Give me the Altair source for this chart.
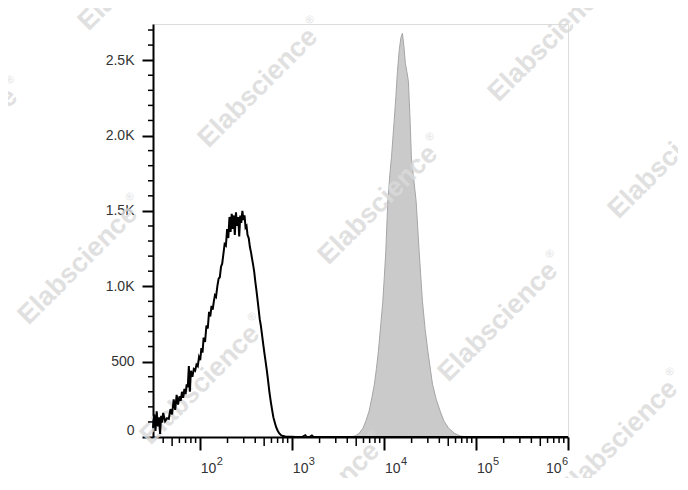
import altair as alt
import pandas as pd

# ---------------- data ----------------
# black (open) histogram: fluorescence channel value, event count
black_x = [31, 32, 33, 34, 35, 36, 37, 38, 39, 40, 42, 44, 46, 48, 50, 52, 54, 56, 58, 60,
           62, 64, 66, 68, 70, 72, 74, 76, 78, 80, 83, 86, 89, 92, 95, 98, 101, 104, 107, 110,
           114, 118, 122, 126, 130, 134, 138, 142, 146, 150, 155, 160, 165, 170, 175, 180, 186, 192, 198, 204,
           210, 216, 222, 228, 234, 240, 247, 254, 261, 268, 275, 282, 290, 298, 306, 314, 322, 330, 340, 350,
           360, 370, 380, 390, 400, 412, 424, 436, 448, 460, 475, 490, 505, 520, 535, 550, 570, 590, 610, 630,
           650, 675, 700, 730, 760, 800, 850, 900, 1000, 1100, 1300, 1400, 1450, 1550, 1650, 1720, 1800, 2500,
           5000, 10000, 100000, 1000000]
black_y = [60, 150, 40, 170, 70, 130, 20, 140, 95, 160, 105, 125, 120, 185, 150, 250, 180, 280, 215, 270,
           240, 300, 260, 320, 285, 350, 330, 470, 300, 440, 400, 450, 440, 480, 470, 530, 510, 590, 560, 660,
           630, 740, 720, 830, 800, 870, 845, 900, 940, 930, 1000, 1050, 1060, 1130, 1150, 1210, 1280, 1270, 1380, 1320,
           1460, 1360, 1480, 1380, 1470, 1340, 1490, 1400, 1460, 1330, 1470, 1420, 1500, 1440, 1470, 1390, 1400, 1340, 1320, 1260,
           1225, 1180, 1140, 1095, 1035, 975, 910, 845, 780, 740, 675, 610, 550, 495, 440, 380, 300, 235, 180, 130,
           100, 65, 43, 24, 13, 6, 3, 2, 1, 0, 1, 12, 0, 0, 10, 0, 0, 0,
           0, 0, 0, 0]

# grey (filled) histogram
gray_x = [3500, 4300, 4865, 5400, 5943, 6400, 6907, 7400, 7885, 8300, 8717, 9200, 9730, 10100, 10488,
          10750, 11027, 11600, 12100, 12912, 13500, 14027, 14700, 15300, 15894, 16500, 17100, 17742, 18469,
          19270, 19900, 21000, 22393, 24137, 26225, 28000, 30018, 33682, 37000, 40832, 45000, 50255, 58000,
          67335, 80000]
gray_y = [0, 0, 7, 25, 60, 110, 172, 260, 351, 455, 570, 730, 901, 1060, 1232,
          1400, 1564, 1740, 1860, 2094, 2260, 2425, 2570, 2650, 2679, 2590, 2480, 2425, 2359,
          2094, 1850, 1720, 1564, 1232, 901, 720, 570, 351, 250, 172, 105, 60, 25,
          7, 0]

# axis ticks and labels
y_major = [0, 500, 1000, 1500, 2000, 2500]
y_minor = [100, 200, 300, 400, 600, 700, 800, 900, 1100, 1200, 1300, 1400, 1600, 1700, 1800, 1900,
           2100, 2200, 2300, 2400, 2600, 2700]
x_major = [100, 1000, 10000, 100000, 1000000]
x_base = ["10", "10", "10", "10", "10"]
x_exp = ["2", "3", "4", "5", "6"]
x_minor = [40, 60, 70, 80, 90,
           200, 300, 400, 600, 700, 800, 900,
           2000, 3000, 4000, 6000, 7000, 8000, 9000,
           20000, 30000, 40000, 60000, 70000, 80000, 90000,
           200000, 300000, 400000, 600000, 700000, 800000, 900000]
x_mid = [50, 500, 5000, 50000, 500000]

watermark_text = "Elabscience"
watermark_mark = "®"
# watermark centres, in pixels relative to the plot area's top-left corner
watermark_centres = [(-15, -53), (105, 64), (225, 181), (345, 298), (465, 416),
                     (-195, 124), (-75, 241), (47, 361), (167, 478),
                     (395, 18), (515, 135)]

# ---------------- chart ----------------
W, H = 415, 413
FONT = "Liberation Sans"

xs = alt.Scale(type="log", domain=[31, 1000000], nice=False)
ys = alt.Scale(domain=[0, 2740], nice=False, zero=False)

xax = alt.Axis(values=x_major, labels=False, title=None, grid=False,
               tickSize=13, tickWidth=2, tickColor="black",
               domainColor="black", domainWidth=2)
yax = alt.Axis(values=y_major, title=None, grid=False,
               tickSize=11, tickWidth=2, tickColor="black",
               domainColor="black", domainWidth=2,
               labelFont=FONT, labelFontSize=14, labelColor="#333333", labelPadding=8,
               labelExpr="datum.value == 0 ? '0' : (datum.value < 1000 ? format(datum.value, 'd') : format(datum.value / 1000, '.1f') + 'K')",
               labelBaseline={"condition": {"test": "datum.value == 0", "value": "bottom"}, "value": "middle"})

black_df = pd.DataFrame({"x": black_x, "y": black_y})
gray_df = pd.DataFrame({"x": gray_x, "y": gray_y})

gray = alt.Chart(gray_df).mark_area(color="#cacaca", stroke="#a6a6a6", strokeWidth=1).encode(
    x=alt.X("x:Q", scale=xs, axis=xax),
    y=alt.Y("y:Q", scale=ys, axis=yax),
)

black = alt.Chart(black_df).mark_line(color="black", strokeWidth=2).encode(
    x=alt.X("x:Q", scale=xs, axis=xax),
    y=alt.Y("y:Q", scale=ys, axis=yax),
)

xminor = alt.Chart(pd.DataFrame({"v": x_minor})).mark_rule(color="black", strokeWidth=1.5).encode(
    x=alt.X("v:Q", scale=xs, axis=xax), y=alt.value(H), y2=alt.value(H + 6))
xmid = alt.Chart(pd.DataFrame({"v": x_mid})).mark_rule(color="black", strokeWidth=1.5).encode(
    x=alt.X("v:Q", scale=xs, axis=xax), y=alt.value(H), y2=alt.value(H + 9))
yminor = alt.Chart(pd.DataFrame({"v": y_minor})).mark_rule(color="black", strokeWidth=1.5).encode(
    y=alt.Y("v:Q", scale=ys, axis=yax), x=alt.value(-5), x2=alt.value(0))

lab_df = pd.DataFrame({"v": x_major, "b": x_base, "e": x_exp})
lab_main = lab_df[lab_df["v"] < 1000000]
lab_last = lab_df[lab_df["v"] >= 1000000]

base_a = alt.Chart(lab_main).mark_text(align="left", baseline="alphabetic", font=FONT, fontSize=14,
                                       color="#333333", dx=1).encode(
    x=alt.X("v:Q", scale=xs, axis=xax), y=alt.value(449), text="b:N")
exp_a = alt.Chart(lab_main).mark_text(align="left", baseline="alphabetic", font=FONT, fontSize=11,
                                      color="#333333", dx=17).encode(
    x=alt.X("v:Q", scale=xs, axis=xax), y=alt.value(441), text="e:N")
base_b = alt.Chart(lab_last).mark_text(align="left", baseline="alphabetic", font=FONT, fontSize=14,
                                       color="#333333", dx=-22).encode(
    x=alt.X("v:Q", scale=xs, axis=xax), y=alt.value(449), text="b:N")
exp_b = alt.Chart(lab_last).mark_text(align="left", baseline="alphabetic", font=FONT, fontSize=11,
                                      color="#333333", dx=-6).encode(
    x=alt.X("v:Q", scale=xs, axis=xax), y=alt.value(441), text="e:N")

marks = []
for (cx, cy) in watermark_centres:
    one = alt.Data(values=[{"k": 1}])
    marks.append(alt.Chart(one).mark_text(text=watermark_text, angle=315, align="center",
                                          baseline="middle", font=FONT, fontWeight="bold",
                                          fontSize=27, color="#dadada", opacity=0.82).encode(
        x=alt.value(cx), y=alt.value(cy)))
    marks.append(alt.Chart(one).mark_text(text=watermark_mark, angle=315, align="center",
                                          baseline="middle", font=FONT, fontSize=11,
                                          color="#dadada", opacity=0.82, dx=85, dy=-11).encode(
        x=alt.value(cx), y=alt.value(cy)))

chart = alt.layer(
    gray, *marks, black, xminor, xmid, yminor, base_a, exp_a, base_b, exp_b
).properties(
    width=W, height=H,
    autosize=alt.AutoSizeParams(type="none"),
    padding={"left": 145, "top": 16, "right": 110, "bottom": 41},
).configure_view(
    stroke="#a8a8a8", strokeWidth=1.5
).configure(background="white")

chart.save("out.html", embed_options={"renderer": "svg", "actions": False})
